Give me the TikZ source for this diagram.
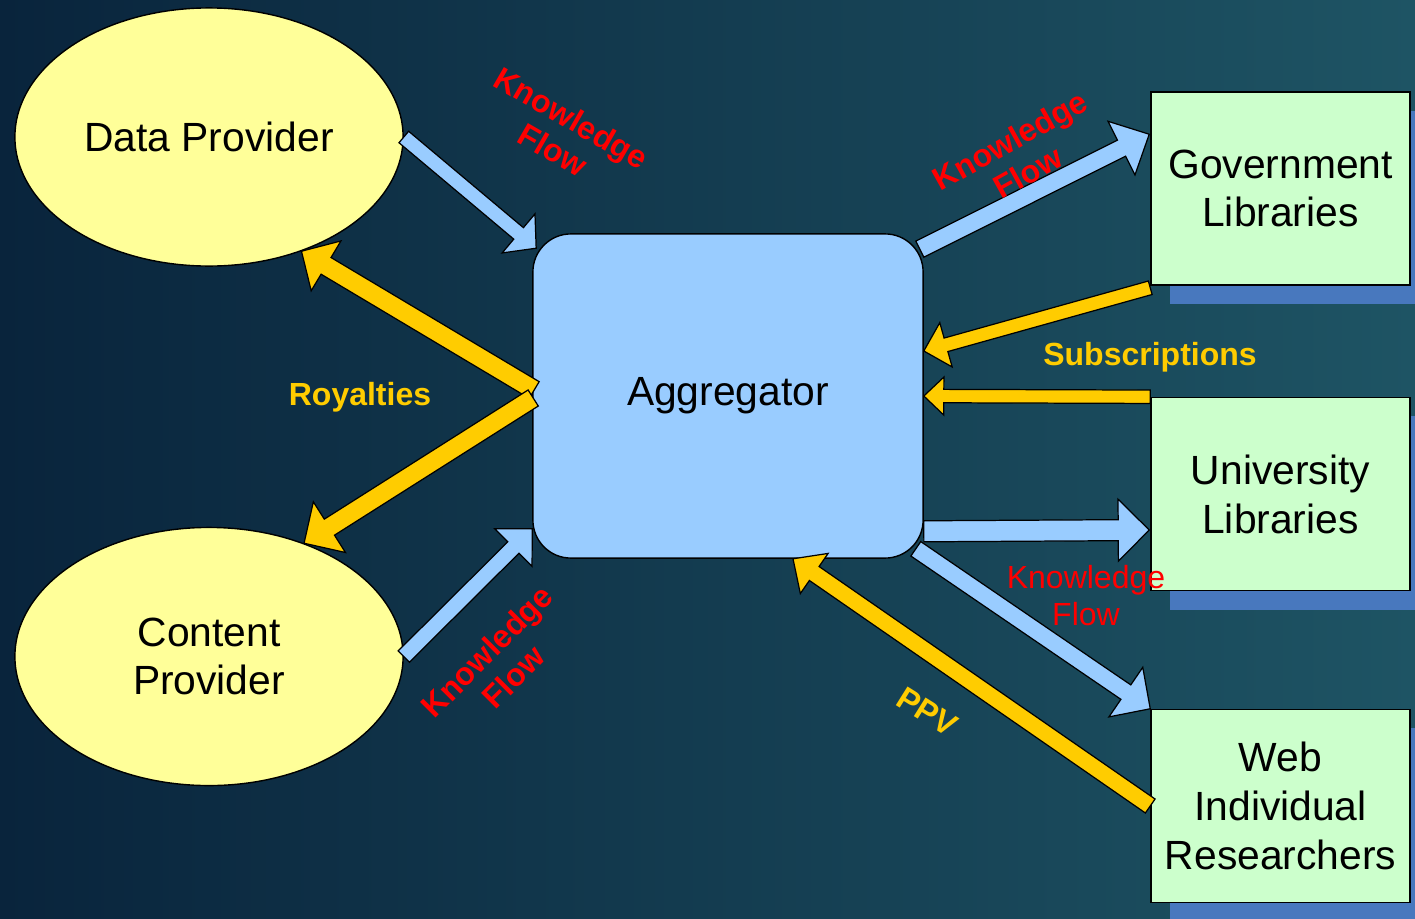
\documentclass[tikz,border=0pt]{standalone}
\usepackage{fontspec}
\setmainfont{Liberation Sans}
\usetikzlibrary{calc}
\usetikzlibrary{shapes.geometric}
\usetikzlibrary{shadows}
\definecolor{bgleft}    {RGB}{9,36,60}
\definecolor{bgright}   {RGB}{30,84,100}
\definecolor{provfill}  {RGB}{255,255,153}
\definecolor{aggfill}   {RGB}{153,204,255}
\definecolor{libfill}   {RGB}{204,255,204}
\definecolor{libshadow} {RGB}{72,120,190}
\definecolor{flowblue}  {RGB}{153,204,255}
\definecolor{paygold}   {RGB}{255,204,0}
\definecolor{flowred}   {RGB}{255,0,0}

\tikzset{
  shafthalf/.store in=\shafthalf, shafthalf=0.08cm,
  headhalf/.store in=\headhalf, headhalf=0.27cm,
  headlen/.store in=\headlen, headlen=0.27cm,
  blockarrow/.style={
    draw=black, line width=0.35pt, line join=miter,
    to path={
      ($(\tikztostart)!\shafthalf!90:(\tikztotarget)$)
      -- ($(\tikztotarget)!\headlen!(\tikztostart)!\shafthalf!-90:(\tikztostart)$)
      -- ($(\tikztotarget)!\headlen!(\tikztostart)!\headhalf!-90:(\tikztostart)$)
      -- (\tikztotarget)
      -- ($(\tikztotarget)!\headlen!(\tikztostart)!\headhalf!90:(\tikztostart)$)
      -- ($(\tikztotarget)!\headlen!(\tikztostart)!\shafthalf!90:(\tikztostart)$)
      -- ($(\tikztostart)!\shafthalf!-90:(\tikztotarget)$)
      -- cycle
    }
  },
  kflow/.style={blockarrow, fill=flowblue},
  payflow/.style={blockarrow, fill=paygold},
  provider/.style={ellipse, draw=black, line width=0.4pt, fill=provfill,
    inner sep=0pt, minimum width=3.88cm, minimum height=2.58cm,
    align=center, font=\fontsize{11.6}{13.9}\selectfont},
  hub/.style={rectangle, rounded corners=0.38cm, draw=black, line width=0.4pt,
    fill=aggfill, minimum width=3.9cm, minimum height=3.24cm,
    font=\fontsize{11.6}{13.9}\selectfont},
  library/.style={rectangle, draw=black, line width=0.4pt, fill=libfill,
    minimum width=2.59cm, minimum height=1.93cm, align=center,
    font=\fontsize{11.6}{13.9}\selectfont,
    drop shadow={shadow xshift=0.19cm, shadow yshift=-0.19cm,
      fill=libshadow, opacity=1}},
  redtag/.style={text=flowred, align=center,
    font=\fontsize{9.1}{10.5}\selectfont\bfseries},
  goldtag/.style={text=paygold, align=center,
    font=\fontsize{9.1}{10.5}\selectfont\bfseries}
}

\begin{document}
\begin{tikzpicture}[x=0.01cm, y=-0.01cm]
  \useasboundingbox (0,0) rectangle (1415,918);
  \clip (0,0) rectangle (1415,918);

  % background
  \shade [left color=bgleft, right color=bgright] (0,0) rectangle (1415,918);

  % providers
  \node (dp) [provider] at (209,137) {Data Provider};
  \node (cp) [provider] at (209,656.5) {Content\\Provider};

  % aggregator
  \node (agg) [hub] at (728,396) {Aggregator};

  % libraries
  \node (gov) [library] at (1280.5,188.5) {Government\\Libraries};
  \node (uni) [library] at (1280.5,494) {University\\Libraries};
  \node (web) [library] at (1280.5,806) {Web\\Individual\\Researchers};

  % arrow ends on the aggregator and libraries
  \coordinate (aggin1)  at ([shift={(4,15)}]agg.north west);
  \coordinate (aggout1) at ([shift={(2,-6)}]agg.west);
  \coordinate (aggout2) at ([shift={(1,2)}]agg.west);
  \coordinate (aggin2)  at ([shift={(0,-30)}]agg.south west);
  \coordinate (aggout3) at ([shift={(-4,16)}]agg.north east);
  \coordinate (aggin3)  at ([shift={(0,-45)}]agg.east);
  \coordinate (aggout4) at ([shift={(0,-27.5)}]agg.south east);
  \coordinate (aggout5) at ([shift={(-8,-10)}]agg.south east);
  \coordinate (aggin4)  at ([shift={(65,0)}]agg.south);
  \coordinate (govin)   at ([shift={(-1,43)}]gov.north west);
  \coordinate (govout)  at ([shift={(0,2)}]gov.south west);
  \coordinate (uniin)   at ([shift={(-1,36)}]uni.west);

  % knowledge flow
  \path [kflow, shafthalf=0.075cm, headhalf=0.255cm, headlen=0.23cm]
    (dp.east) to (aggin1);
  \path [kflow, shafthalf=0.08cm, headhalf=0.265cm, headlen=0.265cm]
    (cp.east) to (aggin2);
  \path [kflow, shafthalf=0.09cm, headhalf=0.30cm, headlen=0.31cm]
    (aggout3) to (govin);
  \path [kflow, shafthalf=0.105cm, headhalf=0.31cm, headlen=0.31cm]
    (aggout4) to (uniin);
  \path [kflow, shafthalf=0.0875cm, headhalf=0.30cm, headlen=0.295cm]
    (aggout5) to (web.north west);

  % money flow
  \path [payflow, shafthalf=0.097cm, headhalf=0.29cm, headlen=0.286cm]
    (aggout1) to (dp.-51);
  \path [payflow, shafthalf=0.095cm, headhalf=0.30cm, headlen=0.30cm]
    (aggout2) to (cp.50);
  \path [payflow, shafthalf=0.07cm, headhalf=0.23cm, headlen=0.23cm]
    (govout) to (aggin3);
  \path [payflow, shafthalf=0.067cm, headhalf=0.19cm, headlen=0.20cm]
    (uni.north west) to (agg.east);
  \path [payflow, shafthalf=0.085cm, headhalf=0.244cm, headlen=0.258cm]
    (web.west) to (aggin4);

  % labels
  \node (kfdp)  [redtag, rotate=-30] at (562,134) {Knowledge\\Flow};
  \node (kfgov) [redtag, rotate=29]  at (1019,156) {Knowledge\\Flow};
  \node (kfcp)  [redtag, rotate=45]  at (500,664) {Knowledge\\Flow};
  \node (kfuni) [redtag, font=\fontsize{9.1}{10.5}\selectfont]
    at (1086,596) {Knowledge\\Flow};
  \node (royal) [goldtag] at (360,397) {Royalties};
  \node (subs)  [goldtag] at (1150,357) {Subscriptions};
  \node (ppv)   [goldtag, rotate=-32] at (927,712) {PPV};
\end{tikzpicture}
\end{document}
